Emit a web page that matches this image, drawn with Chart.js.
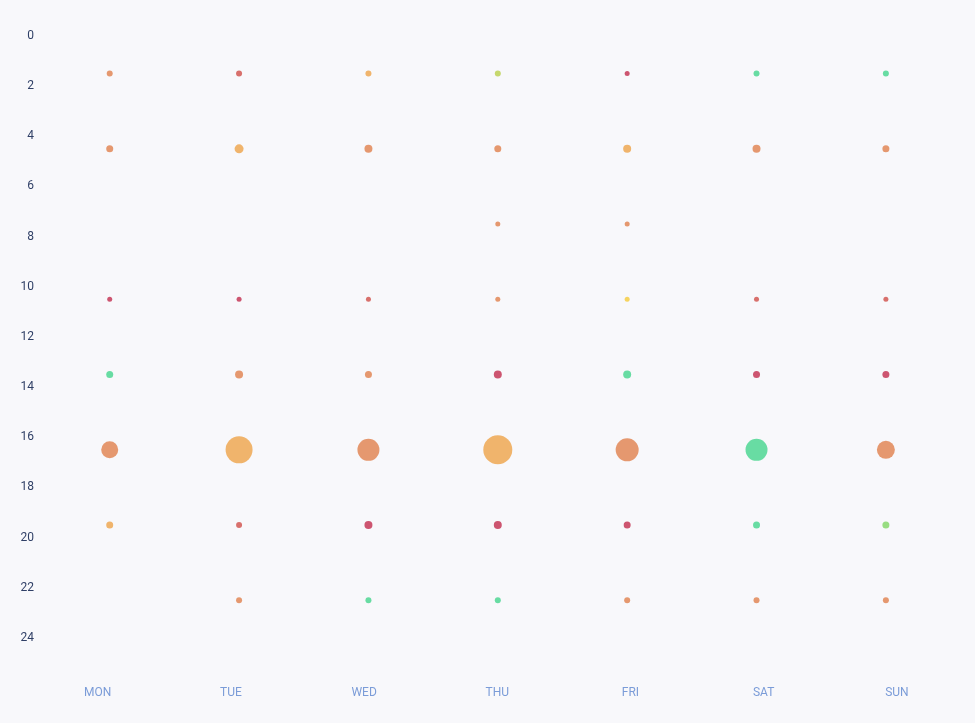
<!DOCTYPE html>
<html>
<head>
<meta charset="utf-8">
<script src="https://cdn.jsdelivr.net/npm/chart.js@4/dist/chart.umd.min.js"></script>
<style>
    html, body { margin: 0; padding: 0; background: #f8f8fb; }
    #wrap { width: 975px; height: 723px; }
</style>
</head>
<body>
<div id="wrap"><canvas id="punchChart"></canvas></div>
<script>
// days along the bottom, hour slots down the side
const days = ['MON', 'TUE', 'WED', 'THU', 'FRI', 'SAT', 'SUN'];
const hourSlots = [1.5, 4.5, 7.5, 10.5, 13.5, 16.5, 19.5, 22.5];
const hourTicks = [0, 2, 4, 6, 8, 10, 12, 14, 16, 18, 20, 22, 24];

// one row per hour slot, one column per day (null = no activity)
const volume = [
    [6, 6, 6, 6, 5, 6, 6],
    [7, 9, 8, 7, 8, 8, 7],
    [null, null, null, 5, 5, null, null],
    [5, 5, 5, 5, 5, 5, 5],
    [7, 8, 7, 8, 8, 7, 7],
    [17, 27, 22, 29, 23, 22, 18],
    [7, 6, 8, 8, 7, 7, 7],
    [null, 6, 6, 6, 6, 6, 6]
];

const mood = [
    ['orange', 'rose', 'amber', 'lime', 'crimson', 'green', 'green'],
    ['orange', 'amber', 'orange', 'orange', 'amber', 'orange', 'orange'],
    [null, null, null, 'orange', 'orange', null, null],
    ['crimson', 'crimson', 'rose', 'orange', 'yellow', 'rose', 'rose'],
    ['green', 'orange', 'orange', 'crimson', 'green', 'crimson', 'crimson'],
    ['orange', 'amber', 'orange', 'amber', 'orange', 'green', 'orange'],
    ['amber', 'rose', 'crimson', 'crimson', 'crimson', 'green', 'mint'],
    [null, 'orange', 'green', 'green', 'orange', 'orange', 'orange']
];

const moodColors = {
    orange: '#e5986f',
    amber: '#f0b46c',
    crimson: '#cd5570',
    rose: '#d8706c',
    green: '#68dca3',
    lime: '#c6d86e',
    yellow: '#f6d460',
    mint: '#98dd82'
};

function buildPoints() {
    const points = [];
    const colors = [];
    hourSlots.forEach(function(hour, row) {
        days.forEach(function(day, col) {
            const v = volume[row][col];
            if (v === null) return;
            points.push({ x: col, y: hour, r: v / 2 });
            colors.push(moodColors[mood[row][col]]);
        });
    });
    return { points: points, colors: colors };
}

const built = buildPoints();
const ctx = document.getElementById('punchChart').getContext('2d');

new Chart(ctx, {
    type: 'bubble',
    data: {
        datasets: [{
            data: built.points,
            backgroundColor: built.colors,
            borderWidth: 0,
            xAxisID: 'xPts',
            yAxisID: 'y'
        }]
    },
    options: {
        responsive: true,
        maintainAspectRatio: false,
        animation: false,
        layout: {
            padding: { top: 36, right: 11, bottom: 0, left: 0 }
        },
        plugins: {
            legend: { display: false },
            tooltip: { enabled: false }
        },
        scales: {
            // day labels, spaced a little wider than the bubbles
            x: {
                type: 'linear',
                position: 'bottom',
                min: -0.4785,
                max: 6.4778,
                grid: { display: false, drawTicks: false },
                border: { display: false },
                afterBuildTicks: function(scale) {
                    scale.ticks = days.map(function(d, i) { return { value: i }; });
                },
                ticks: {
                    padding: 10,
                    color: '#7b9cd8',
                    font: { family: 'Roboto', size: 12 },
                    callback: function(value) { return days[value]; }
                },
                afterFit: function(scale) { scale.height = 47.4; }
            },
            xPts: {
                type: 'linear',
                display: false,
                min: -0.5853,
                max: 6.5768
            },
            y: {
                type: 'linear',
                reverse: true,
                min: 0,
                max: 25.5,
                grid: { display: false, drawTicks: false },
                border: { display: false },
                afterBuildTicks: function(scale) {
                    scale.ticks = hourTicks.map(function(v) { return { value: v }; });
                },
                ticks: {
                    padding: 0,
                    color: '#2f3f66',
                    font: { family: 'Roboto', size: 12 }
                },
                afterFit: function(scale) { scale.width = 34; }
            }
        }
    }
});
</script>
</body>
</html>
